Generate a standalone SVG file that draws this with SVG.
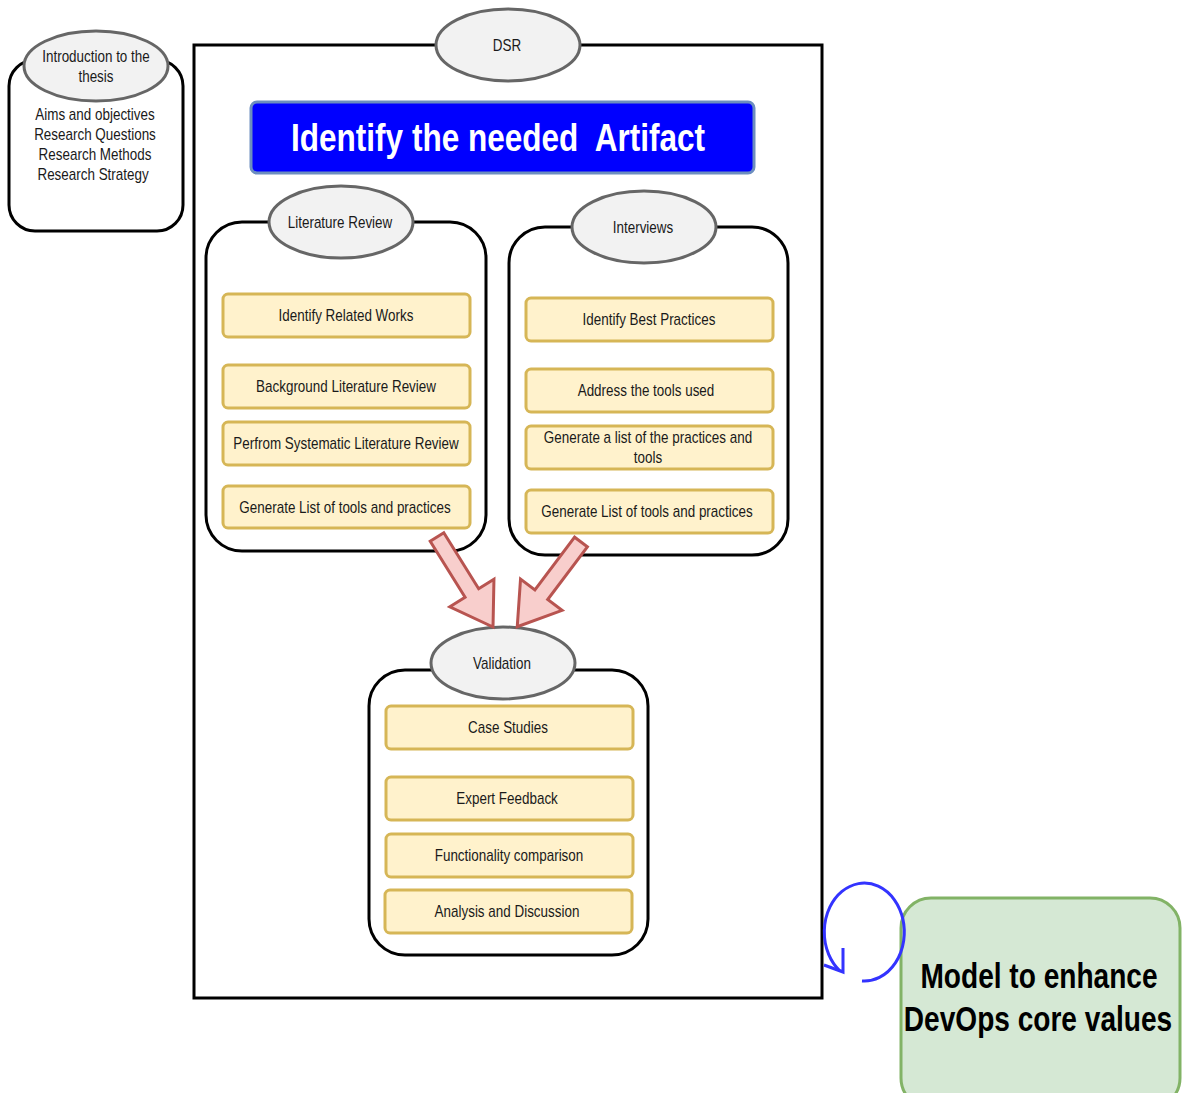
<svg xmlns="http://www.w3.org/2000/svg" width="1182" height="1093" viewBox="0 0 1182 1093">
  <defs>
    <style>
      text { font-family: "Liberation Sans", Arial, sans-serif; text-anchor: middle; fill: #1a1a1a;
             transform-box: fill-box; transform-origin: center; transform: scaleX(0.84); }
      .box { fill: #ffffff; stroke: #000000; stroke-width: 3; }
      .label { fill: #f2f2f2; stroke: #666666; stroke-width: 3; }
      .item { fill: #fff2cc; stroke: #d6b656; stroke-width: 3; }
      .t16 { font-size: 16px; }
      .big { font-size: 36px; font-weight: bold; fill: #000000; transform: scaleX(0.78); }
      .flow { fill: #f8cecc; stroke: #b85450; stroke-width: 3; stroke-linejoin: miter; }
      .loop { fill: none; stroke: #3333ff; stroke-width: 3; }
    </style>
  </defs>
  <rect width="1182" height="1093" fill="#ffffff"/>

  <!-- Introduction -->
  <g id="intro">
    <rect class="box" x="9" y="60" width="174" height="171" rx="26"/>
    <ellipse class="label" cx="96" cy="66" rx="72" ry="35"/>
    <text class="t16" x="96" y="62">Introduction to the</text>
    <text class="t16" x="96" y="82">thesis</text>
    <text class="t16" x="95" y="120">Aims and objectives</text>
    <text class="t16" x="95" y="140">Research Questions</text>
    <text class="t16" x="95" y="160">Research Methods</text>
    <text class="t16" x="93" y="180">Research Strategy</text>
  </g>

  <!-- DSR frame -->
  <g id="dsr">
    <rect x="194" y="45" width="628" height="953" fill="none" stroke="#000000" stroke-width="3"/>
    <ellipse class="label" cx="508" cy="45" rx="72" ry="36"/>
    <text class="t16" x="507" y="51">DSR</text>
  </g>

  <g id="artifact">
    <rect x="251" y="102" width="503" height="71" rx="6" fill="#0000ff" stroke="#6c8ebf" stroke-width="3"/>
    <text x="498" y="151" style="font-size:38px;font-weight:bold;fill:#ffffff;transform:scaleX(0.83)" xml:space="preserve">Identify the needed  Artifact</text>
  </g>

  <!-- Literature Review -->
  <g id="literature-review">
    <rect class="box" x="206" y="222" width="280" height="329" rx="36"/>
    <ellipse class="label" cx="341" cy="222" rx="72" ry="36"/>
    <text class="t16" x="340" y="228">Literature Review</text>
  </g>
  <g id="lr-related">
    <rect class="item" x="223" y="294" width="247" height="43" rx="5"/>
    <text class="t16" x="346" y="321">Identify Related Works</text>
  </g>
  <g id="lr-background">
    <rect class="item" x="223" y="365" width="247" height="43" rx="5"/>
    <text class="t16" x="346" y="392">Background Literature Review</text>
  </g>
  <g id="lr-systematic">
    <rect class="item" x="223" y="422" width="247" height="43" rx="5"/>
    <text class="t16" x="346" y="449">Perfrom Systematic Literature Review</text>
  </g>
  <g id="lr-generate">
    <rect class="item" x="223" y="486" width="247" height="42" rx="5"/>
    <text class="t16" x="345" y="513">Generate List of tools and practices</text>
  </g>

  <!-- Interviews -->
  <g id="interviews">
    <rect class="box" x="509" y="227" width="279" height="328" rx="36"/>
    <ellipse class="label" cx="644" cy="227" rx="72" ry="36"/>
    <text class="t16" x="643" y="233">Interviews</text>
  </g>
  <g id="iv-best">
    <rect class="item" x="526" y="298" width="247" height="43" rx="5"/>
    <text class="t16" x="649" y="325">Identify Best Practices</text>
  </g>
  <g id="iv-tools">
    <rect class="item" x="526" y="369" width="247" height="43" rx="5"/>
    <text class="t16" x="646" y="396">Address the tools used</text>
  </g>
  <g id="iv-list">
    <rect class="item" x="526" y="426" width="247" height="43" rx="5"/>
    <text class="t16" x="648" y="443">Generate a list of the practices and</text>
    <text class="t16" x="648" y="463">tools</text>
  </g>
  <g id="iv-generate">
    <rect class="item" x="526" y="490" width="247" height="43" rx="5"/>
    <text class="t16" x="647" y="517">Generate List of tools and practices</text>
  </g>

  <!-- Validation -->
  <g id="validation">
    <rect class="box" x="369" y="670" width="279" height="285" rx="36"/>
    <ellipse class="label" cx="503" cy="663" rx="72" ry="36"/>
    <text class="t16" x="502" y="669">Validation</text>
  </g>
  <g id="val-case">
    <rect class="item" x="386" y="706" width="247" height="43" rx="5"/>
    <text class="t16" x="508" y="733">Case Studies</text>
  </g>
  <g id="val-expert">
    <rect class="item" x="386" y="777" width="247" height="43" rx="5"/>
    <text class="t16" x="507" y="804">Expert Feedback</text>
  </g>
  <g id="val-function">
    <rect class="item" x="386" y="834" width="247" height="43" rx="5"/>
    <text class="t16" x="509" y="861">Functionality comparison</text>
  </g>
  <g id="val-analysis">
    <rect class="item" x="385" y="890" width="247" height="43" rx="5"/>
    <text class="t16" x="507" y="917">Analysis and Discussion</text>
  </g>

  <!-- Outcome -->
  <g id="model">
    <rect x="901" y="898" width="279" height="210" rx="30" fill="#d5e8d4" stroke="#82b366" stroke-width="3"/>
    <text class="big" x="1039" y="988">Model to enhance</text>
    <text class="big" x="1038" y="1031">DevOps core values</text>
  </g>

  <!-- Connectors -->
  <g id="connectors">
    <polygon class="flow" transform="translate(437 537) rotate(58.1)" points="0,-8 66,-8 66,-26 106,0 66,26 66,8 0,8"/>
    <polygon class="flow" transform="translate(581 542) rotate(126.97)" points="0,-8 66,-8 66,-26 106,0 66,26 66,8 0,8"/>
    <path class="loop" d="M 862 981 A 40 49 0 1 0 840 971"/>
    <polyline class="loop" points="843,948 843,972 824,965"/>
  </g>
</svg>
